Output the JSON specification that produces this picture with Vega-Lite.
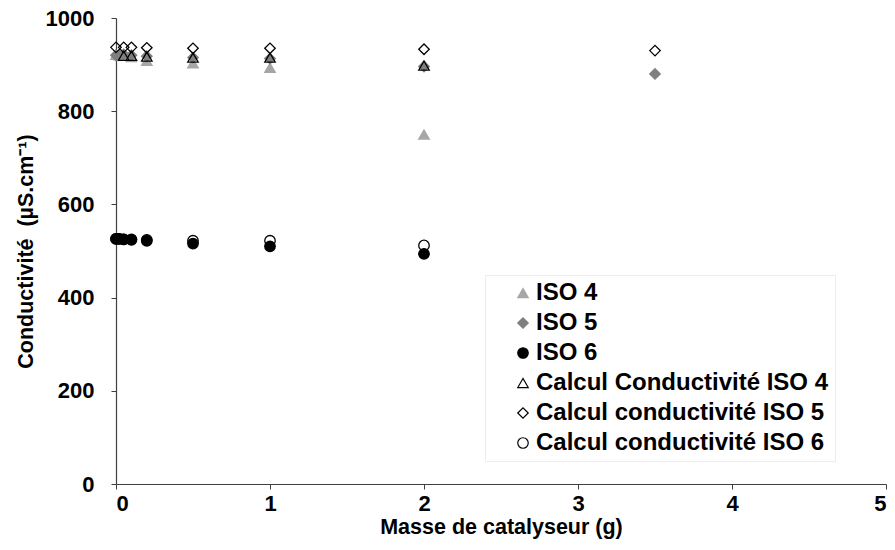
{
  "$schema": "https://vega.github.io/schema/vega-lite/v6.json",
  "autosize": {"type": "none"},
  "width": 770,
  "height": 466,
  "padding": {"left": 116, "top": 18, "right": 9, "bottom": 66},
  "background": "white",
  "config": {
    "view": {"stroke": null},
    "font": "Liberation Sans",
    "axis": {
      "grid": false,
      "domainColor": "#404040",
      "domainWidth": 1.2,
      "tickColor": "#404040",
      "tickSize": 5,
      "labelFont": "Liberation Sans",
      "labelFontWeight": "bold",
      "labelFontSize": 22,
      "labelColor": "black",
      "titleFont": "Liberation Sans",
      "titleFontWeight": "bold",
      "titleFontSize": 21.5,
      "titleColor": "black"
    },
    "legend": {
      "title": null,
      "orient": "none",
      "legendX": 369,
      "legendY": 257,
      "padding": 6,
      "strokeColor": "#ececec",
      "labelFont": "Liberation Sans",
      "labelFontSize": 24,
      "labelFontWeight": "bold",
      "labelColor": "black",
      "rowPadding": 6,
      "symbolSize": 110,
      "symbolStrokeWidth": 1.2,
      "symbolOffset": 20,
      "labelOffset": 1,
      "labelLimit": 400
    }
  },
  "data": {
    "values": [
      {"m": 0, "c": 921, "s": "ISO 4"},
      {"m": 0.02, "c": 920, "s": "ISO 4"},
      {"m": 0.05, "c": 919, "s": "ISO 4"},
      {"m": 0.1, "c": 916, "s": "ISO 4"},
      {"m": 0.2, "c": 908, "s": "ISO 4"},
      {"m": 0.5, "c": 903, "s": "ISO 4"},
      {"m": 1, "c": 893, "s": "ISO 4"},
      {"m": 2, "c": 750, "s": "ISO 4"},
      {"m": 0, "c": 920, "s": "ISO 5"},
      {"m": 0.02, "c": 920, "s": "ISO 5"},
      {"m": 0.05, "c": 922, "s": "ISO 5"},
      {"m": 0.1, "c": 920, "s": "ISO 5"},
      {"m": 0.2, "c": 918, "s": "ISO 5"},
      {"m": 0.5, "c": 915, "s": "ISO 5"},
      {"m": 1, "c": 913, "s": "ISO 5"},
      {"m": 2, "c": 896, "s": "ISO 5"},
      {"m": 3.5, "c": 880, "s": "ISO 5"},
      {"m": 0, "c": 526, "s": "ISO 6"},
      {"m": 0.02, "c": 526, "s": "ISO 6"},
      {"m": 0.05, "c": 525, "s": "ISO 6"},
      {"m": 0.1, "c": 524, "s": "ISO 6"},
      {"m": 0.2, "c": 522, "s": "ISO 6"},
      {"m": 0.5, "c": 516, "s": "ISO 6"},
      {"m": 1, "c": 510, "s": "ISO 6"},
      {"m": 2, "c": 494, "s": "ISO 6"},
      {"m": 0.05, "c": 919, "s": "Calcul Conductivité ISO 4"},
      {"m": 0.1, "c": 919, "s": "Calcul Conductivité ISO 4"},
      {"m": 0.2, "c": 917, "s": "Calcul Conductivité ISO 4"},
      {"m": 0.5, "c": 915, "s": "Calcul Conductivité ISO 4"},
      {"m": 1, "c": 915, "s": "Calcul Conductivité ISO 4"},
      {"m": 2, "c": 898, "s": "Calcul Conductivité ISO 4"},
      {"m": 0, "c": 937, "s": "Calcul conductivité ISO 5"},
      {"m": 0.05, "c": 937, "s": "Calcul conductivité ISO 5"},
      {"m": 0.1, "c": 937, "s": "Calcul conductivité ISO 5"},
      {"m": 0.2, "c": 936, "s": "Calcul conductivité ISO 5"},
      {"m": 0.5, "c": 935, "s": "Calcul conductivité ISO 5"},
      {"m": 1, "c": 935, "s": "Calcul conductivité ISO 5"},
      {"m": 2, "c": 933, "s": "Calcul conductivité ISO 5"},
      {"m": 3.5, "c": 930, "s": "Calcul conductivité ISO 5"},
      {"m": 0, "c": 526, "s": "Calcul conductivité ISO 6"},
      {"m": 0.02, "c": 526, "s": "Calcul conductivité ISO 6"},
      {"m": 0.05, "c": 525, "s": "Calcul conductivité ISO 6"},
      {"m": 0.1, "c": 525, "s": "Calcul conductivité ISO 6"},
      {"m": 0.2, "c": 524, "s": "Calcul conductivité ISO 6"},
      {"m": 0.5, "c": 522, "s": "Calcul conductivité ISO 6"},
      {"m": 1, "c": 522, "s": "Calcul conductivité ISO 6"},
      {"m": 2, "c": 512, "s": "Calcul conductivité ISO 6"}
    ]
  },
  "mark": {"type": "point", "filled": false, "size": 110, "strokeWidth": 1.3, "opacity": 1},
  "encoding": {
    "x": {
      "field": "m", "type": "quantitative",
      "scale": {"domain": [0, 5], "nice": false, "zero": true},
      "axis": {"values": [0, 1, 2, 3, 4, 5], "format": "d", "labelPadding": 4, "title": "Masse de catalyseur (g)", "titlePadding": 2, "labelAngle": 0}
    },
    "y": {
      "field": "c", "type": "quantitative",
      "scale": {"domain": [0, 1000], "nice": false},
      "axis": {"values": [0, 200, 400, 600, 800, 1000], "format": "d", "labelPadding": 17, "title": "Conductivité\u00a0 (µS.cm⁻¹)", "titlePadding": 8}
    },
    "shape": {
      "field": "s", "type": "nominal",
      "scale": {
        "domain": ["ISO 4", "ISO 5", "ISO 6", "Calcul Conductivité ISO 4", "Calcul conductivité ISO 5", "Calcul conductivité ISO 6"],
        "range": ["triangle-up", "diamond", "circle", "triangle-up", "diamond", "circle"]
      }
    },
    "fill": {
      "field": "s", "type": "nominal",
      "scale": {
        "domain": ["ISO 4", "ISO 5", "ISO 6", "Calcul Conductivité ISO 4", "Calcul conductivité ISO 5", "Calcul conductivité ISO 6"],
        "range": ["#a6a6a6", "#7f7f7f", "#000000", "transparent", "transparent", "transparent"]
      }
    },
    "stroke": {
      "field": "s", "type": "nominal",
      "scale": {
        "domain": ["ISO 4", "ISO 5", "ISO 6", "Calcul Conductivité ISO 4", "Calcul conductivité ISO 5", "Calcul conductivité ISO 6"],
        "range": ["#a6a6a6", "#7f7f7f", "#000000", "#000000", "#000000", "#000000"]
      }
    }
  }
}
